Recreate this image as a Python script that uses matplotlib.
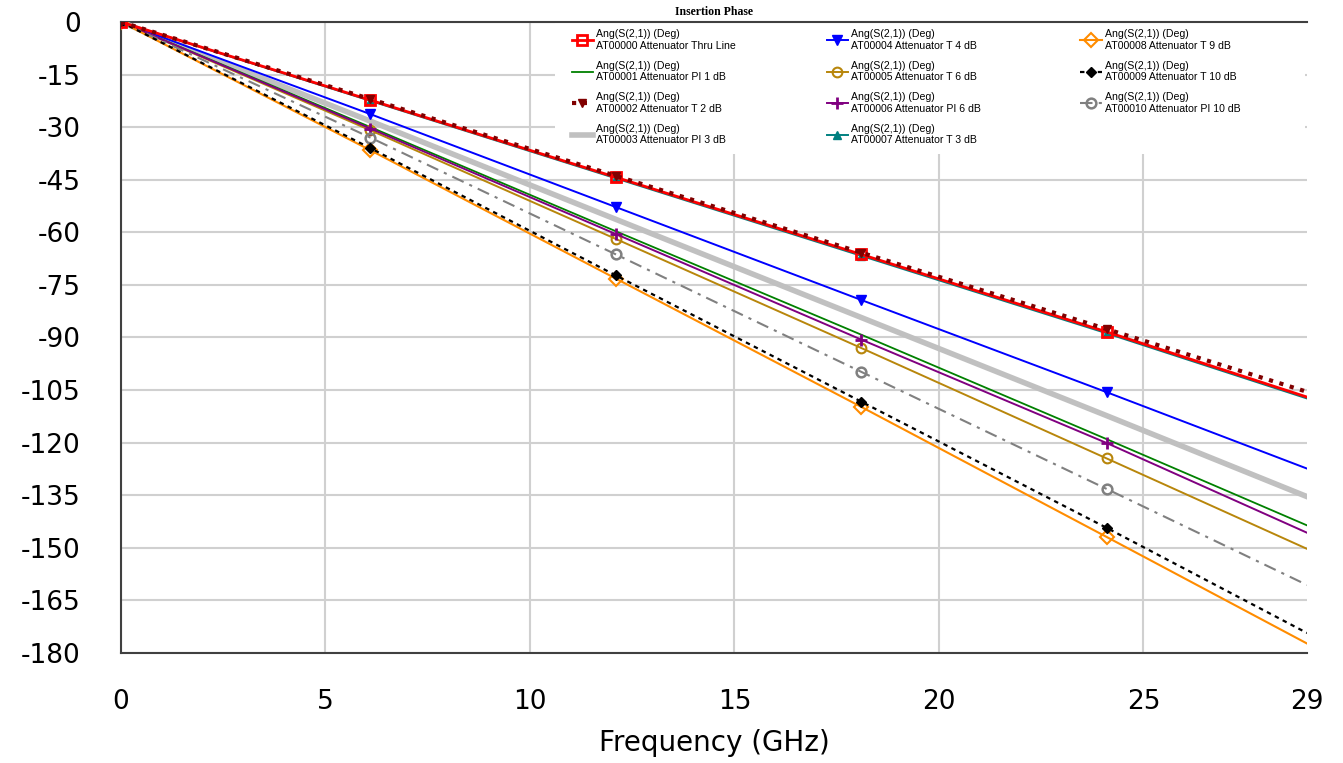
import matplotlib
matplotlib.use("Agg")
import matplotlib.pyplot as plt
from matplotlib.patches import Rectangle

plt.rcParams["axes.unicode_minus"] = False

# frequency points (GHz) where the curves were read
freq = [0, 6.1, 12.1, 18.1, 24.1, 29]

# insertion phase in degrees
thru = [0, -22.3, -44.3, -66.3, -88.4, -107.0]
pi1 = [0, -30.0, -59.7, -89.2, -119.0, -143.6]
t2 = [0, -22.0, -43.9, -65.8, -87.6, -105.5]
pi3 = [0, -28.3, -56.3, -84.3, -112.3, -135.4]
t4 = [0, -26.3, -52.8, -79.3, -105.6, -127.4]
t6 = [0, -30.9, -61.9, -93.0, -124.5, -150.3]
pi6 = [0, -30.4, -60.5, -90.6, -120.1, -145.7]
t3 = [0, -22.5, -44.6, -66.7, -88.8, -107.4]
t9 = [0, -36.6, -73.2, -109.8, -146.9, -177.3]
t10 = [0, -36.0, -72.3, -108.3, -144.3, -174.3]
pi10 = [0, -33.0, -66.3, -99.8, -133.2, -160.6]

head = "Ang(S(2,1)) (Deg)\n"
names = [
    "AT00000 Attenuator Thru Line",
    "AT00001 Attenuator PI 1 dB",
    "AT00002 Attenuator T 2 dB",
    "AT00003 Attenuator PI 3 dB",
    "AT00004 Attenuator T 4 dB",
    "AT00005 Attenuator T 6 dB",
    "AT00006 Attenuator PI 6 dB",
    "AT00007 Attenuator T 3 dB",
    "AT00008 Attenuator T 9 dB",
    "AT00009 Attenuator T 10 dB",
    "AT00010 Attenuator PI 10 dB",
]

xticks = [0, 5, 10, 15, 20, 25, 29]
yticks = list(range(0, -181, -15))

fig = plt.figure(figsize=(13.43, 7.63), dpi=100)
ax = fig.add_axes([0.0901, 0.1442, 0.8831, 0.827])

mk = [0, 1, 2, 3, 4]
h = {}
h["thru"], = ax.plot(freq, thru, color="#ff0000", lw=2.0, marker="s", ms=7, mfc="none", mew=2, markevery=mk, zorder=6)
h["pi1"], = ax.plot(freq, pi1, color="#008000", lw=1.3, zorder=4)
h["t2"], = ax.plot(freq, t2, color="#800000", lw=3.0, ls=(0, (1, 1.6)), marker="v", ms=6, markevery=mk, zorder=7)
h["pi3"], = ax.plot(freq, pi3, color="#c0c0c0", lw=4.0, zorder=3)
h["t4"], = ax.plot(freq, t4, color="#0000ff", lw=1.4, marker="v", ms=7, markevery=mk, zorder=4)
h["t6"], = ax.plot(freq, t6, color="#b8860b", lw=1.4, marker="o", ms=7, mfc="none", mew=1.5, markevery=mk, zorder=4)
h["pi6"], = ax.plot(freq, pi6, color="#800080", lw=1.4, marker="+", ms=9, mew=2, markevery=mk, zorder=4)
h["t3"], = ax.plot(freq, t3, color="#008080", lw=1.4, marker="^", ms=6, markevery=mk, zorder=5)
h["t9"], = ax.plot(freq, t9, color="#ff8c00", lw=1.5, marker="D", ms=7, mfc="none", mew=1.5, markevery=mk, zorder=4)
h["t10"], = ax.plot(freq, t10, color="black", lw=1.6, ls=(0, (2, 2)), marker="D", ms=5, markevery=mk, zorder=5)
h["pi10"], = ax.plot(freq, pi10, color="#808080", lw=1.5, ls=(0, (6, 3, 1.5, 3)), marker="o", ms=7, mfc="none", mew=1.8, markevery=mk, zorder=4)

ax.set_xlim(0, 29)
ax.set_ylim(-180, 0)
ax.set_xticks(xticks)
ax.set_yticks(yticks)
ax.set_yticklabels([str(v) for v in yticks])
ax.tick_params(length=0, labelsize=19)
ax.tick_params(axis="y", pad=29)
ax.tick_params(axis="x", pad=26)
for lbl in ax.get_xticklabels() + ax.get_yticklabels():
    lbl.set_family("DejaVu Sans")

ax.grid(True, color="#d0d0d0", lw=1.5)
ax.set_axisbelow(True)
ax.get_xgridlines()[-1].set_visible(False)

for s in ["left", "bottom", "top"]:
    ax.spines[s].set_color("#404040")
    ax.spines[s].set_linewidth(1.5)
ax.spines["right"].set_visible(False)

ax.set_xlabel("Frequency (GHz)", fontsize=20, family="DejaVu Sans", labelpad=10)
ax.set_title("Insertion Phase", fontsize=8.5, family="Liberation Serif", fontweight="bold", pad=5)

# white block behind the legend, hiding the grid there
ax.add_patch(Rectangle((0.366, 0.79), 0.632, 0.21, transform=ax.transAxes,
                       facecolor="white", edgecolor="none", zorder=2.5))

order = ["thru", "pi1", "t2", "pi3", "t4", "t6", "pi6", "t3", "t9", "t10", "pi10"]
groups = [order[0:4], order[4:8], order[8:11]]
xs = [0.380, 0.595, 0.809]
idx = {k: i for i, k in enumerate(order)}
legends = []
for grp, x0 in zip(groups, xs):
    leg = ax.legend([h[k] for k in grp], [head + names[idx[k]] for k in grp],
                    loc="upper left", bbox_to_anchor=(x0, 0.989), frameon=False,
                    prop={"family": "Liberation Sans", "size": 7.6}, handlelength=2.0,
                    handletextpad=0.3, labelspacing=0.95, borderpad=0, borderaxespad=0)
    leg.set_zorder(10)
    legends.append(leg)
for leg in legends[:-1]:
    ax.add_artist(leg)

fig.savefig("out.png", dpi=100)
